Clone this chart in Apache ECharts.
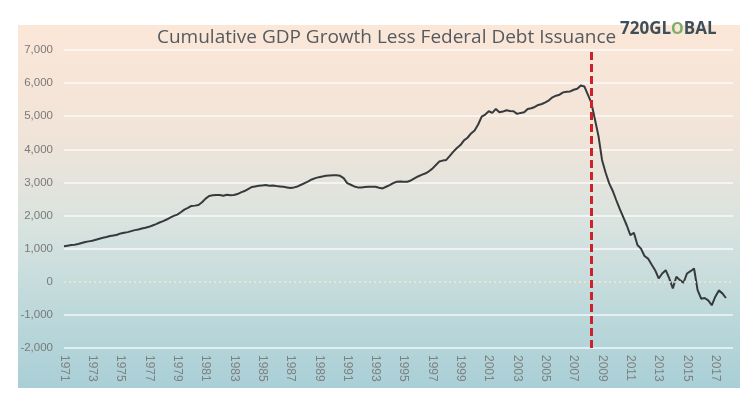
<!DOCTYPE html>
<html>
<head>
<meta charset="utf-8">
<script src="https://cdn.jsdelivr.net/npm/echarts@6/dist/echarts.min.js"></script>
<style>
html,body{margin:0;padding:0;background:#fff;}
#c{width:746px;height:399px;}
</style>
</head>
<body>
<div id="c"></div>
<script>
// Years covered by the category axis (quarterly categories)
const years = [1971,1972,1973,1974,1975,1976,1977,1978,1979,1980,1981,1982,1983,1984,1985,1986,1987,1988,1989,1990,1991,1992,1993,1994,1995,1996,1997,1998,1999,2000,2001,2002,2003,2004,2005,2006,2007,2008,2009,2010,2011,2012,2013,2014,2015,2016,2017,2018];
const quarters = ['Q1','Q2','Q3','Q4'];
// Cumulative GDP growth less federal debt issuance (quarterly, $bn)
const values = [
  1070,1090,1110,1120,   // 1971
  1140,1170,1200,1220,   // 1972
  1240,1270,1300,1330,   // 1973
  1350,1380,1400,1420,   // 1974
  1460,1480,1500,1530,   // 1975
  1560,1580,1610,1630,   // 1976
  1660,1700,1740,1790,   // 1977
  1830,1880,1940,1990,   // 1978
  2030,2100,2180,2230,   // 1979
  2290,2300,2320,2400,   // 1980
  2510,2590,2610,2620,   // 1981
  2620,2600,2630,2610,   // 1982
  2620,2650,2700,2740,   // 1983
  2800,2860,2880,2900,   // 1984
  2910,2920,2900,2910,   // 1985
  2890,2880,2870,2850,   // 1986
  2830,2850,2880,2930,   // 1987
  2980,3030,3090,3130,   // 1988
  3160,3180,3200,3210,   // 1989
  3220,3220,3200,3130,   // 1990
  2980,2930,2880,2850,   // 1991
  2850,2860,2870,2870,   // 1992
  2870,2840,2820,2870,   // 1993
  2920,2980,3020,3030,   // 1994
  3020,3020,3060,3120,   // 1995
  3180,3230,3270,3330,   // 1996
  3410,3520,3630,3660,   // 1997
  3680,3800,3930,4040,   // 1998
  4130,4270,4350,4480,   // 1999
  4570,4750,4990,5050,   // 2000
  5150,5100,5220,5120,   // 2001
  5140,5180,5160,5150,   // 2002
  5070,5100,5120,5220,   // 2003
  5240,5280,5340,5370,   // 2004
  5420,5480,5570,5620,   // 2005
  5650,5720,5740,5750,   // 2006
  5800,5830,5930,5900,   // 2007
  5650,5400,4900,4400,   // 2008
  3680,3300,2980,2750,   // 2009
  2470,2200,1950,1700,   // 2010
  1410,1480,1110,1000,   // 2011
  780,700,520,350,       // 2012
  100,250,350,100,       // 2013
  -200,150,50,-30,       // 2014
  250,320,400,-250,      // 2015
  -510,-490,-560,-710,   // 2016
  -450,-260,-350,-490    // 2017
];
const yTicks = [-2000,-1000,0,1000,2000,3000,4000,5000,6000,7000];
const markerCategory = '2008 Q2';
const titleText = 'Cumulative GDP Growth Less Federal Debt Issuance';

const categories = [];
years.forEach(y => quarters.forEach(q => categories.push(y + ' ' + q)));
categories.length = values.length + 2;

const chart = echarts.init(document.getElementById('c'), null, {renderer:'canvas'});
chart.setOption({
  animation:false,
  backgroundColor:'#ffffff',
  graphic:[{
    type:'rect', left:18, top:25, z:-10, silent:true,
    shape:{width:722, height:363},
    style:{fill:new echarts.graphic.LinearGradient(0,0,0,1,[
      {offset:0,color:'#fbe7d8'},
      {offset:0.3,color:'#f1e4d8'},
      {offset:0.55,color:'#d9e3df'},
      {offset:0.8,color:'#bcd8db'},
      {offset:1,color:'#a9cfd6'}
    ])}
  },{
    type:'text', left:620, top:21, silent:true,
    style:{text:'720GL{g|O}BAL', fontFamily:'"Open Sans", sans-serif', fontWeight:'bold', fontSize:17, fill:'#3f4f58',
      rich:{g:{fontFamily:'"Open Sans", sans-serif', fontWeight:'bold', fontSize:16, fill:'#7fae6a'}}}
  }],
  title:{
    text:titleText, left:152, top:23,
    textStyle:{fontFamily:'"Open Sans", sans-serif', fontWeight:'normal', fontSize:19, color:'#555a5e'}
  },
  grid:{left:64, right:13, top:50, bottom:51},
  xAxis:{
    type:'category', data:categories, boundaryGap:false,
    axisLine:{show:false}, axisTick:{show:false}, splitLine:{show:false},
    axisLabel:{interval:7, rotate:-90, margin:7, color:'#808080', fontSize:12,
      fontFamily:'"Liberation Sans", sans-serif',
      formatter:v => v.slice(0,4)}
  },
  yAxis:{
    type:'value', min:-2000, max:7000, interval:1000,
    axisLine:{show:false}, axisTick:{show:false},
    axisLabel:{color:'#7a7a7a', fontSize:11.5, margin:11, fontFamily:'"Liberation Sans", sans-serif',
      formatter:v => v.toLocaleString('en-US')},
    splitLine:{lineStyle:{width:1.5, color:yTicks.map(t => t===0 ? 'rgba(0,0,0,0)' : 'rgba(255,255,255,0.8)')}}
  },
  series:[{
    type:'line', data:values, showSymbol:false, smooth:false,
    lineStyle:{color:'#363a3d', width:2},
    markLine:{
      silent:true, symbol:['none','none'], label:{show:false},
      data:[
        {yAxis:0, lineStyle:{color:'#f3e9c6', width:1.5, type:[2,3]}},
        {xAxis:markerCategory, lineStyle:{color:'#cc2229', width:3, type:[8,4]}}
      ]
    }
  }]
});
</script>
</body>
</html>
